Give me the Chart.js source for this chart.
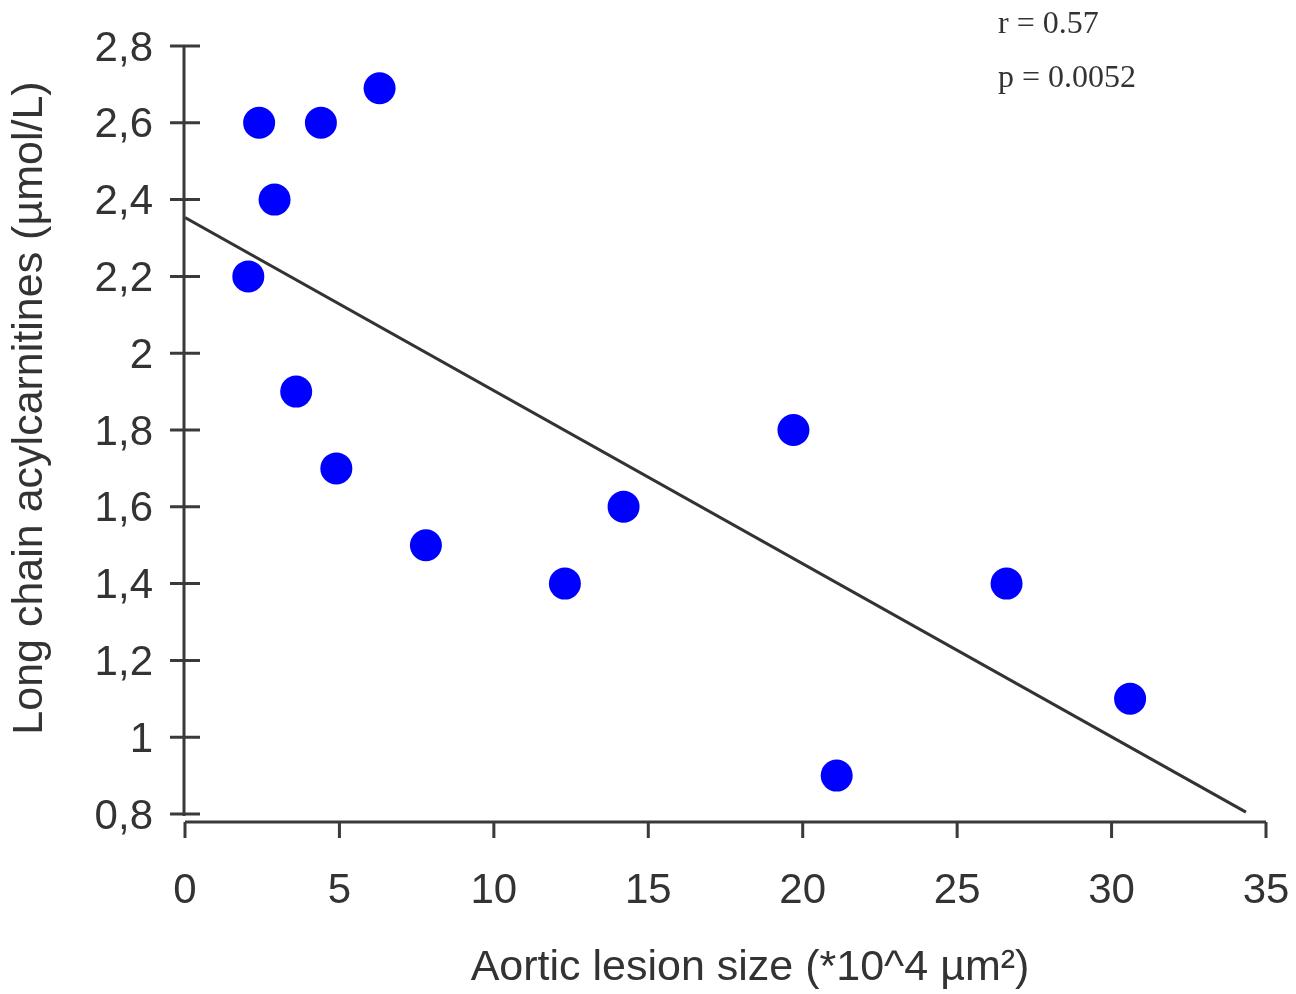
<!DOCTYPE html>
<html>
<head>
<meta charset="utf-8">
<script src="https://cdn.jsdelivr.net/npm/chart.js@4/dist/chart.umd.min.js"></script>
<style>
  html, body { margin: 0; padding: 0; background: #fff; }
  #wrap { width: 1296px; height: 994px; }
</style>
</head>
<body>
<div id="wrap"><canvas id="chart" width="1296" height="994"></canvas></div>
<script>
// lesion size (*10^4 µm²) and long chain acylcarnitines (µmol/L)
const lesionSize = [2.05, 2.4, 2.9, 4.4, 6.3, 3.6, 4.9, 7.8, 12.3, 14.2, 19.7, 21.1, 26.6, 30.6];
const acylcarnitines = [2.2, 2.6, 2.4, 2.6, 2.69, 1.9, 1.7, 1.5, 1.4, 1.6, 1.8, 0.9, 1.4, 1.1];

// fitted line end points
const trendX = [0, 34.35];
const trendY = [2.353, 0.805];

const xTicks = [0, 5, 10, 15, 20, 25, 30, 35];
const yTicks = [0.8, 1, 1.2, 1.4, 1.6, 1.8, 2, 2.2, 2.4, 2.6, 2.8];

const xTitle = "Aortic lesion size (*10^4 µm²)";
const yTitle = "Long chain acylcarnitines (µmol/L)";
const statLines = ["r = 0.57", "p = 0.0052"];

const axisColor = "#3a3a3a";
const textColor = "#333333";
const sans = "'Liberation Sans', Arial, sans-serif";

// axis lines with crossing ticks, the x axis sits a little below the y range
const axesPlugin = {
  id: "axesPlugin",
  afterDraw(chart) {
    const ctx = chart.ctx;
    const xs = chart.scales.x;
    const ys = chart.scales.y;
    const x0 = xs.getPixelForValue(0);
    const yTop = ys.getPixelForValue(yTicks[yTicks.length - 1]);
    const yBot = ys.getPixelForValue(yTicks[0]);
    const xAxisY = yBot + 8;
    ctx.save();
    ctx.strokeStyle = axisColor;
    ctx.lineWidth = 3;
    ctx.beginPath();
    ctx.moveTo(x0 - 1, yTop);
    ctx.lineTo(x0 - 1, yBot + 2);
    yTicks.forEach(v => {
      const py = ys.getPixelForValue(v);
      ctx.moveTo(x0 - 15, py);
      ctx.lineTo(x0 + 15, py);
    });
    ctx.moveTo(x0, xAxisY);
    ctx.lineTo(xs.getPixelForValue(35), xAxisY);
    xTicks.forEach(v => {
      const px = xs.getPixelForValue(v);
      ctx.moveTo(px, xAxisY);
      ctx.lineTo(px, xAxisY + 16);
    });
    ctx.stroke();

    // axis titles
    ctx.fillStyle = textColor;
    ctx.font = "43px " + sans;
    ctx.textAlign = "center";
    ctx.textBaseline = "middle";
    ctx.fillText(xTitle, 750, 968);
    ctx.save();
    ctx.translate(30, 408);
    ctx.rotate(-Math.PI / 2);
    ctx.fillText(yTitle, 0, 0);
    ctx.restore();

    // statistics
    ctx.font = "32px 'Liberation Serif', serif";
    ctx.textAlign = "left";
    ctx.textBaseline = "alphabetic";
    ctx.fillText(statLines[0], 998, 33);
    ctx.fillText(statLines[1], 998, 87);
    ctx.restore();
  }
};

new Chart(document.getElementById("chart").getContext("2d"), {
  type: "scatter",
  data: {
    datasets: [
      {
        type: "line",
        data: trendX.map((x, i) => ({ x: x, y: trendY[i] })),
        borderColor: "#333333",
        borderWidth: 3,
        pointRadius: 0,
        fill: false
      },
      {
        data: lesionSize.map((x, i) => ({ x: x, y: acylcarnitines[i] })),
        backgroundColor: "#0000ff",
        borderWidth: 0,
        pointRadius: 16,
        pointHoverRadius: 16
      }
    ]
  },
  options: {
    responsive: false,
    animation: false,
    layout: { padding: { top: 46, right: 30, left: 0, bottom: 0 } },
    plugins: {
      legend: { display: false },
      tooltip: { enabled: false }
    },
    scales: {
      x: {
        type: "linear",
        min: 0,
        max: 35,
        grid: { display: false },
        border: { display: false },
        afterBuildTicks(scale) { scale.ticks = xTicks.map(v => ({ value: v })); },
        afterFit(scale) {
          scale.height = 180;
          scale.paddingLeft = 0;
          scale.paddingRight = 0;
        },
        ticks: {
          color: textColor,
          padding: 44,
          font: { family: sans, size: 42 },
          maxRotation: 0
        }
      },
      y: {
        type: "linear",
        min: 0.8,
        max: 2.8,
        grid: { display: false },
        border: { display: false },
        afterBuildTicks(scale) { scale.ticks = yTicks.map(v => ({ value: v })); },
        afterFit(scale) {
          scale.width = 185;
          scale.paddingTop = 0;
          scale.paddingBottom = 0;
        },
        ticks: {
          color: textColor,
          padding: 24,
          labelOffset: 3,
          font: { family: sans, size: 42 },
          callback: v => String(Math.round(v * 10) / 10).replace(".", ",")
        }
      }
    }
  },
  plugins: [axesPlugin]
});
</script>
</body>
</html>
